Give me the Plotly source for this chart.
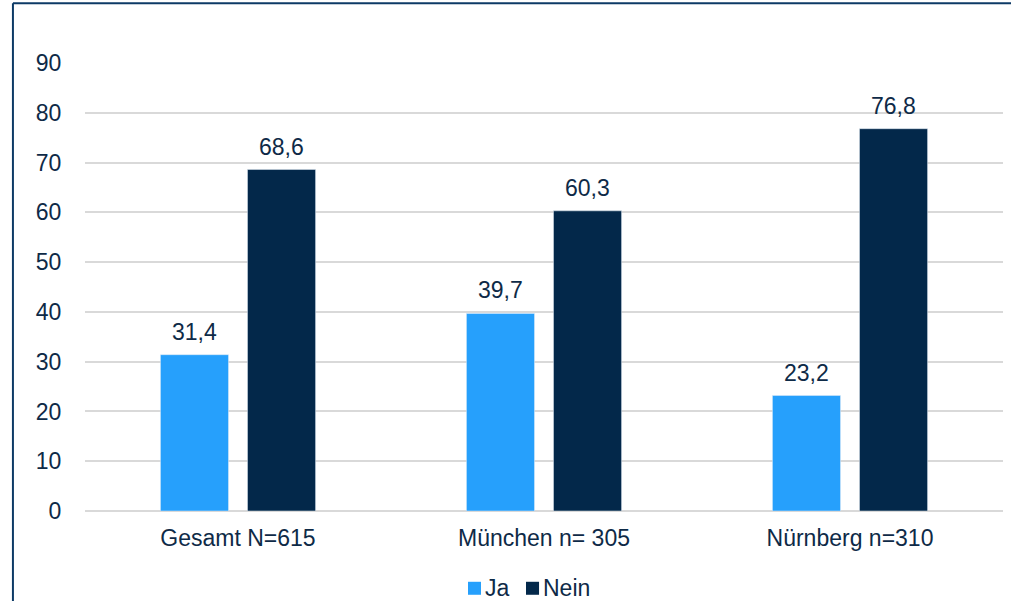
import plotly.graph_objects as go

categories = ["Gesamt N=615", "München n= 305", "Nürnberg n=310"]
ja_values = [31.4, 39.7, 23.2]
nein_values = [68.6, 60.3, 76.8]
y_ticks = [0, 10, 20, 30, 40, 50, 60, 70, 80, 90]
series_names = ["Ja", "Nein"]

TEXT = "#0e2a47"
FONT = "Liberation Sans, Arial, sans-serif"
JA_COLOR = "#26a0fc"
NEIN_COLOR = "#03284a"
FS = 23

fig = go.Figure()
fig.add_trace(go.Bar(name=series_names[0], x=categories, y=ja_values, marker_color=JA_COLOR))
fig.add_trace(go.Bar(name=series_names[1], x=categories, y=nein_values, marker_color=NEIN_COLOR))

# value labels above each bar
annotations = []
for vals, shift in ((ja_values, -43.5), (nein_values, 43.5)):
    for c, v in zip(categories, vals):
        annotations.append(dict(
            x=c, y=v, xref="x", yref="y", text=f"{v:.1f}".replace(".", ","),
            showarrow=False, xshift=shift, yanchor="bottom", yshift=8,
            font=dict(family=FONT, size=FS, color=TEXT)))

# compact legend below the axis: colour square + series name
shapes = []
legend_y0, legend_y1 = -0.187, -0.158
for name, color, sx0, sx1, tx in ((series_names[0], JA_COLOR, 0.4172, 0.4314, 0.4346),
                                  (series_names[1], NEIN_COLOR, 0.4804, 0.4946, 0.4978)):
    shapes.append(dict(type="rect", xref="paper", yref="paper", x0=sx0, x1=sx1,
                       y0=legend_y0, y1=legend_y1, line=dict(width=0), fillcolor=color))
    annotations.append(dict(x=tx, y=(legend_y0 + legend_y1) / 2, xref="paper", yref="paper",
                            text=name, showarrow=False, xanchor="left", yanchor="middle",
                            borderpad=0, font=dict(family=FONT, size=FS, color=TEXT)))

# chart frame
shapes += [
    dict(type="line", xref="paper", yref="paper", x0=-0.0785, x1=1.2,
         y0=1.1335, y1=1.1335, line=dict(color="#0d3a66", width=2)),
    dict(type="line", xref="paper", yref="paper", x0=-0.0785, x1=-0.0785,
         y0=1.1335, y1=-0.3, line=dict(color="#0d3a66", width=2)),
]

fig.update_layout(
    width=1011, height=601,
    margin=dict(l=85, r=8, t=63, b=90, autoexpand=False),
    paper_bgcolor="white", plot_bgcolor="white",
    barmode="group", bargap=0.431, bargroupgap=0.218,
    separators=",.",
    font=dict(family=FONT, size=FS, color=TEXT),
    showlegend=False,
    annotations=annotations,
    shapes=shapes,
)
fig.update_yaxes(range=[0, 90], tickvals=y_ticks, showgrid=True, gridcolor="#d9d9d9",
                 gridwidth=1.5, zeroline=True, zerolinecolor="#d9d9d9", zerolinewidth=1.5,
                 ticks="outside", ticklen=18, tickcolor="rgba(0,0,0,0)", automargin=False,
                 tickfont=dict(family=FONT, size=FS, color=TEXT))
fig.update_xaxes(showgrid=False, ticks="", ticklabelstandoff=11, automargin=False,
                 tickfont=dict(family=FONT, size=FS, color=TEXT))

fig.write_html("out.html")
